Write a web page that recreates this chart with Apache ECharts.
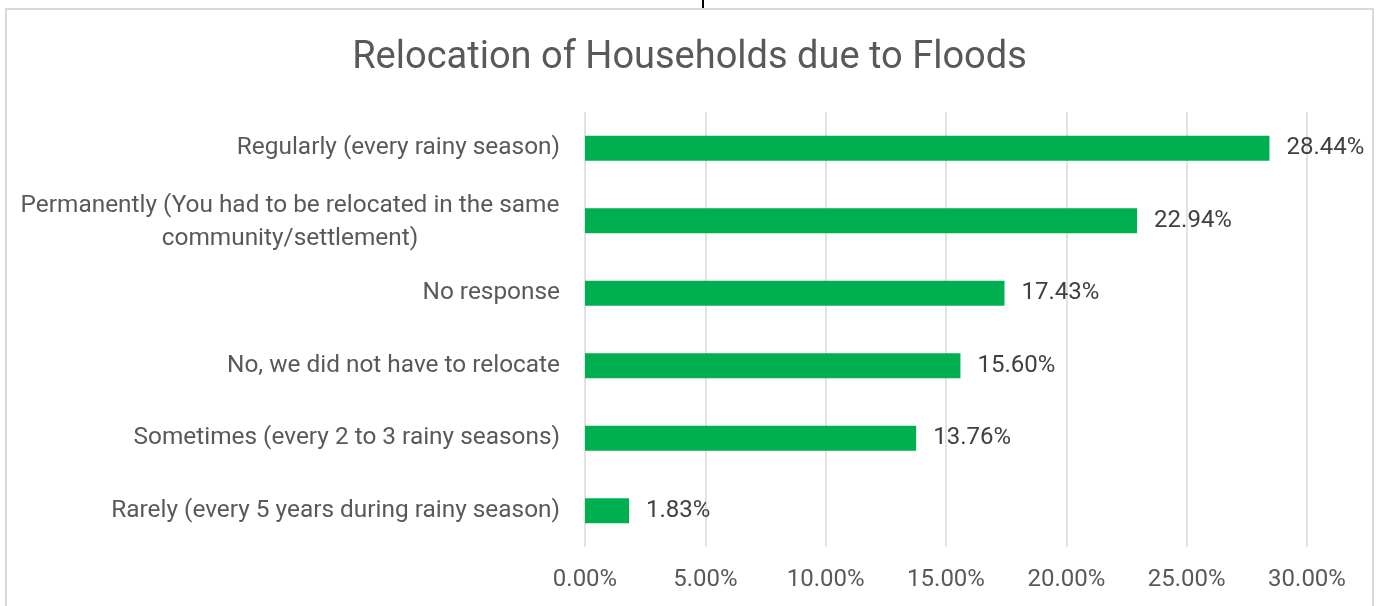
<!DOCTYPE html>
<html>
<head>
<meta charset="utf-8">
<script src="https://cdn.jsdelivr.net/npm/echarts@6/dist/echarts.min.js"></script>
<style>
  html, body { margin: 0; padding: 0; background: #fff; }
  #frame { position: absolute; left: 5px; top: 8px; width: 1369px; height: 620px; border: 2px solid #d9d9d9; box-sizing: border-box; }
  #tick { position: absolute; left: 702px; top: 0; width: 2px; height: 8px; background: #000; }
  #chart { position: absolute; left: 0; top: 0; width: 1379px; height: 606px; }
</style>
</head>
<body>
<div id="frame"></div>
<div id="tick"></div>
<div id="chart"></div>
<script>
const chartTitle = 'Relocation of Households due to Floods';
const categories = [
  'Regularly (every rainy season)',
  'Permanently (You had to be relocated in the same\ncommunity/settlement)',
  'No response',
  'No, we did not have to relocate',
  'Sometimes (every 2 to 3 rainy seasons)',
  'Rarely (every 5 years during rainy season)'
];
const percentages = [28.44, 22.94, 17.43, 15.60, 13.76, 1.83];
const axisTicks = [0, 5, 10, 15, 20, 25, 30];

const chart = echarts.init(document.getElementById('chart'));

chart.setOption({
  animation: false,
  backgroundColor: 'transparent',
  textStyle: { fontFamily: 'Roboto' },
  title: {
    text: chartTitle,
    left: 'center',
    top: 34,
    textStyle: { color: '#595959', fontSize: 38, fontWeight: 'normal', fontFamily: 'Roboto' }
  },
  grid: { left: 585, right: 72, top: 112, bottom: 59 },
  xAxis: {
    type: 'value',
    min: axisTicks[0],
    max: axisTicks[axisTicks.length - 1],
    interval: 5,
    axisLine: { show: false },
    axisTick: { show: false },
    splitLine: { lineStyle: { color: '#d9d9d9', width: 1.5 } },
    axisLabel: {
      color: '#595959',
      fontSize: 24,
      margin: 21,
      formatter: v => v.toFixed(2) + '%'
    }
  },
  yAxis: {
    type: 'category',
    inverse: true,
    data: categories,
    axisLine: { show: false },
    axisTick: { show: false },
    axisLabel: {
      color: '#595959',
      fontSize: 24.4,
      margin: 25,
      lineHeight: 33,
      formatter: v => {
        if (v.indexOf('\n') < 0) return v;
        return v.split('\n').map(s => '{c|' + s + '}').join('\n');
      },
      rich: {
        c: { width: 540, align: 'center', color: '#595959', fontSize: 24.4, lineHeight: 33, padding: [4, 0, 0, 0] }
      }
    }
  },
  series: [{
    type: 'bar',
    data: percentages,
    barWidth: 25,
    itemStyle: { color: '#00b050' },
    label: {
      show: true,
      position: 'right',
      distance: 17,
      color: '#404040',
      fontSize: 24,
      formatter: p => p.value.toFixed(2) + '%'
    }
  }]
});
</script>
</body>
</html>
